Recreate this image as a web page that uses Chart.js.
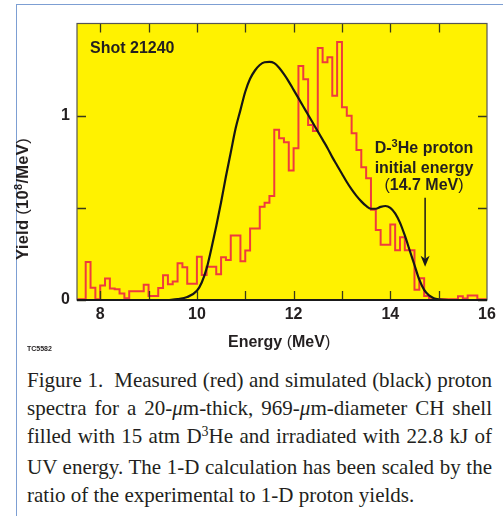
<!DOCTYPE html>
<html>
<head>
<meta charset="utf-8">
<script src="https://cdn.jsdelivr.net/npm/chart.js@4.4.0/dist/chart.umd.min.js"></script>
<style>
  html, body { margin: 0; padding: 0; background: #fff; }
  #page { position: relative; width: 503px; height: 516px; overflow: hidden; background: #fff; }
  #frame { position: absolute; left: 16px; top: 4px; width: 600px; height: 600px; border-left: 1.5px solid #7d9fd3; border-top: 1.5px solid #7d9fd3; }
  #chart { position: absolute; left: 0; top: 0; }
  .lbl { position: absolute; font-family: "Liberation Sans", Arial, sans-serif; font-weight: bold; color: #231f20; white-space: nowrap; }
  .thin { font-weight: normal; }
  #shot { left: 90px; top: 39px; font-size: 16px; }
  #note { left: 364px; top: 139px; width: 120px; text-align: center; font-size: 16px; line-height: 17.5px; }
  #note sup { font-size: 11px; vertical-align: 0; position: relative; top: -6px; }
  #xtitle { left: 228px; top: 333px; font-size: 16px; }
  #ytitle { left: 22px; top: 199px; font-size: 16.5px; letter-spacing: 0.3px; transform: translate(-50%, -50%) rotate(-90deg); }
  #ytitle sup { font-size: 11px; vertical-align: 0; position: relative; top: -6px; }
  #tc { left: 27px; top: 345px; font-size: 7px; }
  #caption { position: absolute; left: 27px; top: 366px; width: 465px; font-family: "Liberation Serif", "Times New Roman", serif; font-size: 21px; line-height: 28px; color: #231f20; }
  #caption div { text-align: justify; text-align-last: justify; }
  #caption div.last { text-align-last: left; }
  #caption sup { font-size: 14px; vertical-align: 0; position: relative; top: -7px; }
</style>
</head>
<body>
<div id="page">
  <div id="frame"></div>
  <canvas id="chart" width="503" height="360"></canvas>
  <div class="lbl" id="shot">Shot 21240</div>
  <div class="lbl" id="note">D-<sup>3</sup>He proton<br>initial energy<br><span class="thin">(</span>14.7 MeV<span class="thin">)</span></div>
  <div class="lbl" id="xtitle">Energy <span class="thin">(</span>MeV<span class="thin">)</span></div>
  <div class="lbl" id="ytitle">Yield <span class="thin">(</span>10<sup>8</sup>/MeV<span class="thin">)</span></div>
  <div class="lbl" id="tc">TC5582</div>
  <div id="caption">
    <div>Figure 1.&nbsp; Measured (red) and simulated (black) proton</div>
    <div>spectra for a 20-<i>μ</i>m-thick, 969-<i>μ</i>m-diameter CH shell</div>
    <div>filled with 15 atm D<sup>3</sup>He and irradiated with 22.8 kJ of</div>
    <div>UV energy. The 1-D calculation has been scaled by the</div>
    <div class="last">ratio of the experimental to 1-D proton yields.</div>
  </div>
</div>
<script>
// Measured spectrum: left edge of each 0.1-MeV bin (MeV) and yield (10^8/MeV)
const binEnergy = [
  7.5, 7.6, 7.7, 7.8, 7.9, 8.0, 8.1, 8.2, 8.3, 8.4, 8.5, 8.6, 8.7, 8.8, 8.9,
  9.0, 9.1, 9.2, 9.3, 9.4, 9.5, 9.6, 9.7, 9.8, 9.9, 10.0, 10.1, 10.2, 10.3, 10.4,
  10.5, 10.6, 10.7, 10.8, 10.9, 11.0, 11.1, 11.2, 11.3, 11.4, 11.5, 11.6, 11.7, 11.8, 11.9,
  12.0, 12.1, 12.2, 12.3, 12.4, 12.5, 12.6, 12.7, 12.8, 12.9, 13.0, 13.1, 13.2, 13.3, 13.4,
  13.5, 13.6, 13.7, 13.8, 13.9, 14.0, 14.1, 14.2, 14.3, 14.4, 14.5, 14.6, 14.7, 14.8, 14.9,
  15.0, 15.1, 15.2, 15.3, 15.4, 15.5, 15.6, 15.7, 15.8, 15.9, 16.0
];
const measuredYield = [
  0.004, 0.004, 0.206, 0.067, 0.004, 0.078, 0.116, 0.063, 0.058, 0.035, 0.010, 0.047, 0.047, 0.047, 0.083,
  0.022, 0.022, 0.065, 0.134, 0.085, 0.100, 0.200, 0.178, 0.088, 0.088, 0.235, 0.135, 0.181, 0.181, 0.140,
  0.232, 0.217, 0.350, 0.350, 0.210, 0.268, 0.388, 0.388, 0.506, 0.528, 0.564, 0.924, 0.877, 0.856, 0.703,
  0.823, 1.270, 1.197, 0.950, 0.917, 1.367, 1.290, 1.317, 1.108, 1.400, 1.045, 1.000, 0.904, 0.814, 0.720,
  0.660, 0.490, 0.380, 0.300, 0.300, 0.410, 0.270, 0.340, 0.270, 0.270, 0.055, 0.118, 0.022, 0.004, 0.004,
  0.004, 0.004, 0.004, 0.004, 0.020, 0.008, 0.025, 0.025, 0.004, 0.004, 0.004
];

// 1-D simulation (scaled)
const simEnergy = [
  9.4, 9.6, 9.8, 10.0, 10.1, 10.2, 10.3, 10.4, 10.5, 10.6, 10.7, 10.8, 10.9, 11.0, 11.1,
  11.2, 11.3, 11.4, 11.5, 11.6, 11.7, 11.8, 11.9, 12.0, 12.1, 12.2, 12.3, 12.4, 12.5, 12.6,
  12.7, 12.8, 12.9, 13.0, 13.1, 13.2, 13.3, 13.4, 13.5, 13.6, 13.7, 13.8, 13.9, 14.0, 14.1,
  14.2, 14.3, 14.4, 14.5, 14.6, 14.7, 14.8, 14.9, 15.0, 15.2
];
const simYield = [
  0.000, 0.005, 0.016, 0.050, 0.095, 0.170, 0.280, 0.400, 0.530, 0.670, 0.800, 0.930, 1.030, 1.130, 1.200,
  1.245, 1.275, 1.290, 1.292, 1.285, 1.260, 1.225, 1.185, 1.140, 1.095, 1.050, 1.005, 0.960, 0.915, 0.870,
  0.825, 0.775, 0.730, 0.685, 0.640, 0.600, 0.565, 0.535, 0.510, 0.495, 0.495, 0.505, 0.510, 0.500, 0.470,
  0.420, 0.350, 0.270, 0.190, 0.110, 0.055, 0.025, 0.010, 0.004, 0.000
];

const xTickValues = [8, 10, 12, 14, 16];
const xTickLabels = ['8', '10', '12', '14', '16'];
const xMinorTicks = [8, 9, 10, 11, 12, 13, 14, 15];
const yTickValues = [0, 0.5, 1];
const yTickLabels = ['0', '', '1'];

// arrow marking the D-3He birth energy
const arrowEnergy = 14.72;
const arrowFrom = 0.555;
const arrowTo = 0.18;

const tickFont = { family: '"Liberation Sans", Arial, sans-serif', size: 16, weight: 'bold' };

const framePlugin = {
  id: 'frame',
  beforeDatasetsDraw(chart) {
    const { ctx, chartArea: a } = chart;
    ctx.save();
    ctx.fillStyle = '#fff200';
    ctx.fillRect(a.left, a.top, a.right - a.left, a.bottom - a.top);
    ctx.restore();
  },
  afterDatasetsDraw(chart) {
    const { ctx, chartArea: a, scales } = chart;
    const x = scales.x, y = scales.y;
    ctx.save();
    // inward ticks on all four sides
    ctx.strokeStyle = '#3a3a1a';
    ctx.lineWidth = 1.3;
    ctx.beginPath();
    xMinorTicks.forEach(v => {
      const px = Math.round(x.getPixelForValue(v)) + 0.5;
      ctx.moveTo(px, a.bottom); ctx.lineTo(px, a.bottom - 9);
      ctx.moveTo(px, a.top); ctx.lineTo(px, a.top + 9);
    });
    yTickValues.forEach(v => {
      const py = Math.round(y.getPixelForValue(v)) + 0.5;
      ctx.moveTo(a.left, py); ctx.lineTo(a.left + 9, py);
      ctx.moveTo(a.right, py); ctx.lineTo(a.right - 9, py);
    });
    ctx.stroke();
    // frame
    ctx.strokeStyle = '#555';
    ctx.lineWidth = 1.2;
    ctx.strokeRect(a.left, a.top, a.right - a.left, a.bottom - a.top);
    ctx.strokeStyle = '#1a1a1a';
    ctx.lineWidth = 2;
    ctx.beginPath();
    ctx.moveTo(a.left, a.bottom); ctx.lineTo(a.right, a.bottom);
    ctx.stroke();
    // arrow
    const ax = x.getPixelForValue(arrowEnergy);
    const y0 = y.getPixelForValue(arrowFrom);
    const y1 = y.getPixelForValue(arrowTo);
    ctx.strokeStyle = '#1a1a1a';
    ctx.fillStyle = '#1a1a1a';
    ctx.lineWidth = 1.5;
    ctx.beginPath();
    ctx.moveTo(ax, y0); ctx.lineTo(ax, y1 - 8);
    ctx.stroke();
    ctx.beginPath();
    ctx.moveTo(ax, y1);
    ctx.lineTo(ax - 4.5, y1 - 11);
    ctx.lineTo(ax, y1 - 8);
    ctx.lineTo(ax + 4.5, y1 - 11);
    ctx.closePath();
    ctx.fill();
    ctx.restore();
  }
};

const ctx = document.getElementById('chart').getContext('2d');
new Chart(ctx, {
  type: 'line',
  data: {
    datasets: [
      {
        label: 'Simulated',
        data: simEnergy.map((e, i) => ({ x: e, y: simYield[i] })),
        borderColor: '#161616',
        borderWidth: 2.2,
        pointRadius: 0,
        cubicInterpolationMode: 'monotone',
        fill: false
      },
      {
        label: 'Measured',
        data: binEnergy.map((e, i) => ({ x: e, y: measuredYield[i] })),
        borderColor: '#ef3b3d',
        borderWidth: 2,
        pointRadius: 0,
        stepped: true,
        fill: false
      }
    ]
  },
  options: {
    responsive: false,
    animation: false,
    devicePixelRatio: 1,
    layout: { padding: { top: 23.5, right: 16, left: 0, bottom: 0 } },
    plugins: { legend: { display: false }, tooltip: { enabled: false } },
    scales: {
      x: {
        type: 'linear',
        min: 7.52,
        max: 16,
        afterBuildTicks: s => { s.ticks = xTickValues.map(v => ({ value: v })); },
        afterFit: s => { s.height = 60; },
        grid: { display: false, drawTicks: false },
        border: { display: false },
        ticks: {
          padding: 5,
          maxRotation: 0,
          color: '#231f20',
          font: tickFont,
          callback: (v, i) => xTickLabels[i]
        }
      },
      y: {
        type: 'linear',
        min: 0,
        max: 1.5,
        afterBuildTicks: s => { s.ticks = yTickValues.map(v => ({ value: v })); },
        afterFit: s => { s.width = 77; },
        grid: { display: false, drawTicks: false },
        border: { display: false },
        ticks: {
          padding: 7,
          color: '#231f20',
          font: tickFont,
          callback: (v, i) => yTickLabels[i]
        }
      }
    }
  },
  plugins: [framePlugin]
});
</script>
</body>
</html>
